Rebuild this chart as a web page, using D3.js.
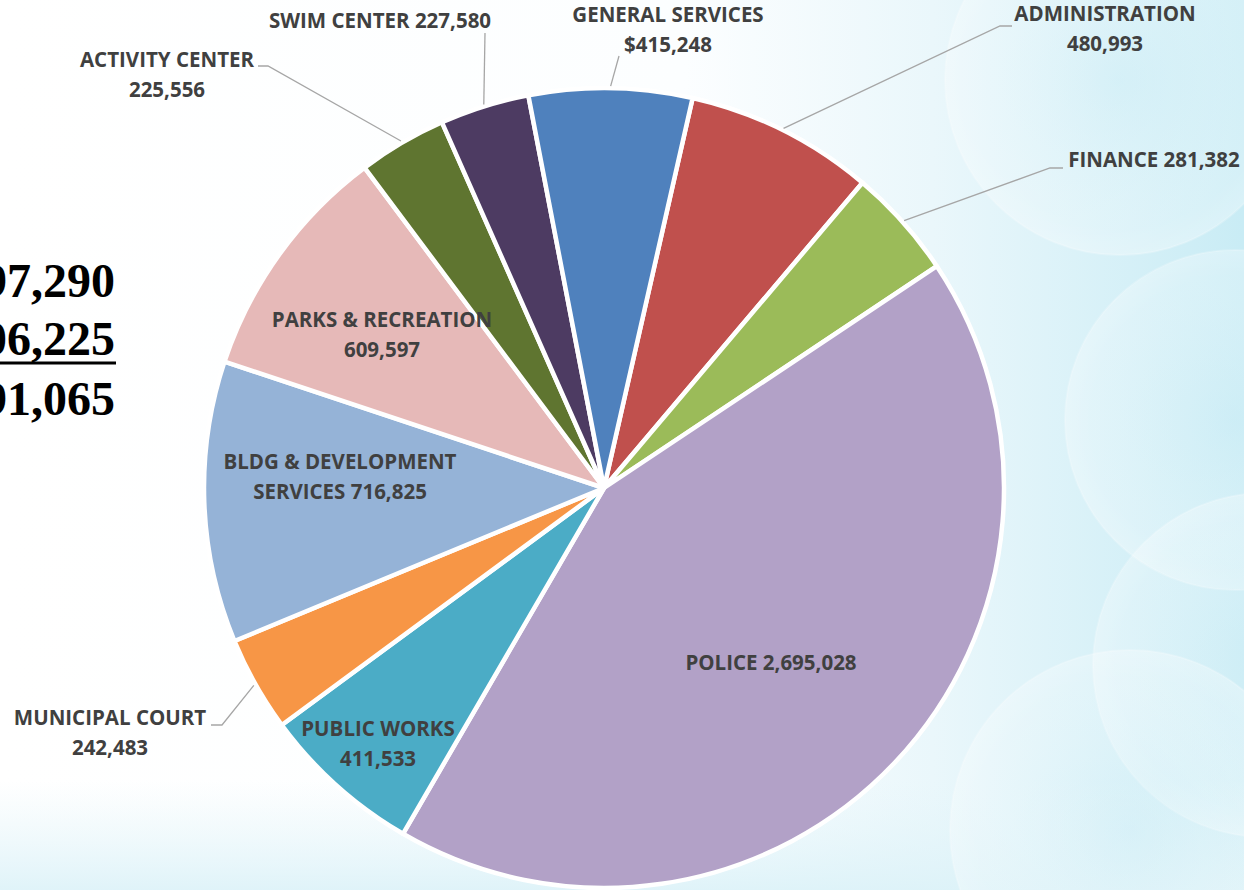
<!DOCTYPE html>
<html>
<head>
<meta charset="utf-8">
<script src="https://cdn.jsdelivr.net/npm/d3@7"></script>
<style>
  html, body { margin: 0; padding: 0; background: #fff; overflow: hidden; }
  .lbl { font-family: "Open Sans", "Noto Sans", sans-serif; font-weight: 700; fill: #404040; }
  .big { font-family: "Liberation Serif", "Times New Roman", serif; font-weight: 700; fill: #000; }
</style>
</head>
<body>
<script>

var width = 1244;
var height = 890;

// departments in clockwise order, starting just right of 12 o'clock
var departments = ["ADMINISTRATION", "FINANCE", "POLICE", "PUBLIC WORKS", "MUNICIPAL COURT",
  "BLDG & DEVELOPMENT SERVICES", "PARKS & RECREATION", "ACTIVITY CENTER", "SWIM CENTER", "GENERAL SERVICES"];
var budget = [480993, 281382, 2695028, 411533, 242483, 716825, 609597, 225556, 227580, 415248];
var sliceColors = ["#C0504D", "#9BBB59", "#B2A1C7", "#4BACC6", "#F79646",
  "#95B3D7", "#E6B9B8", "#5F7530", "#4D3B62", "#4F81BD"];

// the figures at the left edge (partly cut off in the slide)
var totals = ["6,397,290", "6,306,225", "$91,065"];

// label layout: text lines ("#" = value), text centre / baseline, optional leader points
var labelLayout = {
  "ADMINISTRATION": {lines: ["ADMINISTRATION", "#"], x: 1105, y: 21, leader: [[1012, 26], [1000, 26]]},
  "FINANCE": {lines: ["FINANCE #"], x: 1154, y: 167, leader: [[1063, 168], [1050, 168]]},
  "POLICE": {lines: ["POLICE #"], x: 771, y: 670},
  "PUBLIC WORKS": {lines: ["PUBLIC WORKS", "#"], x: 378, y: 736},
  "MUNICIPAL COURT": {lines: ["MUNICIPAL COURT", "#"], x: 110, y: 725, leader: [[211, 725], [222, 725]]},
  "BLDG & DEVELOPMENT SERVICES": {lines: ["BLDG & DEVELOPMENT", "SERVICES #"], x: 340, y: 469},
  "PARKS & RECREATION": {lines: ["PARKS & RECREATION", "#"], x: 382, y: 327},
  "ACTIVITY CENTER": {lines: ["ACTIVITY CENTER", "#"], x: 167, y: 67, leader: [[258, 66], [268, 66]]},
  "SWIM CENTER": {lines: ["SWIM CENTER #"], x: 380, y: 28, leader: [[485, 33]]},
  "GENERAL SERVICES": {lines: ["GENERAL SERVICES", "$#"], x: 668, y: 22, leader: [[619, 56]]}
};

var cx = 604, cy = 488, radius = 400;
var firstAngle = 12.8 * Math.PI / 180;

var svg = d3.select("body")
  .append("svg")
  .attr("width", width)
  .attr("height", height);

// background: white fading into pale cyan bubbles on the right
var defs = svg.append("defs");
var bg = defs.append("linearGradient").attr("id", "bg").attr("x1", 0).attr("x2", 1).attr("y1", 0).attr("y2", 0);
bg.append("stop").attr("offset", "0%").attr("stop-color", "#ffffff");
bg.append("stop").attr("offset", "55%").attr("stop-color", "#fcfeff");
bg.append("stop").attr("offset", "75%").attr("stop-color", "#eaf7fb");
bg.append("stop").attr("offset", "100%").attr("stop-color", "#c9ecf5");

var bottomFade = defs.append("linearGradient").attr("id", "bottomFade").attr("x1", 0).attr("x2", 0).attr("y1", 0).attr("y2", 1);
bottomFade.append("stop").attr("offset", "0%").attr("stop-color", "#e4f5fa").attr("stop-opacity", 0);
bottomFade.append("stop").attr("offset", "100%").attr("stop-color", "#dcf2f8").attr("stop-opacity", 0.9);

var bubble = defs.append("radialGradient").attr("id", "bubble");
bubble.append("stop").attr("offset", "0%").attr("stop-color", "#d3eff7").attr("stop-opacity", 0.35);
bubble.append("stop").attr("offset", "85%").attr("stop-color", "#ffffff").attr("stop-opacity", 0.22);
bubble.append("stop").attr("offset", "100%").attr("stop-color", "#ffffff").attr("stop-opacity", 0.32);

svg.append("rect").attr("width", width).attr("height", height).attr("fill", "url(#bg)");
svg.append("rect").attr("y", 780).attr("width", width).attr("height", 110).attr("fill", "url(#bottomFade)");

var bubbles = [[1120, 80, 175], [1235, 420, 170], [1265, 665, 172], [1130, 830, 180]];
svg.append("g").selectAll("circle")
  .data(bubbles)
  .enter().append("circle")
  .attr("cx", function(d) { return d[0]; })
  .attr("cy", function(d) { return d[1]; })
  .attr("r", function(d) { return d[2]; })
  .attr("fill", "url(#bubble)")
  .attr("stroke", "#ffffff")
  .attr("stroke-opacity", 0.2)
  .attr("stroke-width", 2);

// left figures
var big = svg.append("g");
big.selectAll("text")
  .data(totals)
  .enter().append("text")
  .attr("class", "big")
  .attr("x", 115)
  .attr("y", function(d, i) { return [297, 355, 415][i]; })
  .attr("text-anchor", "end")
  .attr("font-size", "48px")
  .text(function(d) { return d; });
big.append("line")
  .attr("x1", 0).attr("x2", 116)
  .attr("y1", 363).attr("y2", 363)
  .attr("stroke", "#000").attr("stroke-width", 3);

// pie
var data = departments.map(function(d, i) { return {name: d, value: budget[i], color: sliceColors[i]}; });

var pie = d3.pie()
  .sort(null)
  .value(function(d) { return d.value; })
  .startAngle(firstAngle)
  .endAngle(firstAngle + 2 * Math.PI);

var arc = d3.arc().innerRadius(0).outerRadius(radius);
var arcs = pie(data);

var chart = svg.append("g").attr("transform", "translate(" + cx + "," + cy + ")");

chart.selectAll("path.slice")
  .data(arcs)
  .enter().append("path")
  .attr("class", "slice")
  .attr("d", arc)
  .attr("fill", function(d) { return d.data.color; })
  .attr("stroke", "#ffffff")
  .attr("stroke-width", 4.5)
  .attr("stroke-linejoin", "round");

var fmt = d3.format(",");

// leader lines run from the label to the rim at the slice's mid angle
var leaders = svg.append("g");
arcs.forEach(function(d) {
  var lay = labelLayout[d.data.name];
  if (!lay.leader) return;
  var mid = (d.startAngle + d.endAngle) / 2;
  var rim = [cx + (radius + 2) * Math.sin(mid), cy - (radius + 2) * Math.cos(mid)];
  var pts = lay.leader.concat([rim]);
  leaders.append("path")
    .attr("d", d3.line()(pts))
    .attr("fill", "none")
    .attr("stroke", "#A6A6A6")
    .attr("stroke-width", 1.3);
});

var labels = svg.append("g");
arcs.forEach(function(d) {
  var lay = labelLayout[d.data.name];
  var t = labels.append("text")
    .attr("class", "lbl")
    .attr("font-size", "20.5px")
    .attr("text-anchor", "middle");
  lay.lines.forEach(function(line, i) {
    t.append("tspan")
      .attr("x", lay.x)
      .attr("y", lay.y + i * 29.5)
      .text(line.replace("#", fmt(d.data.value)));
  });
});

</script>
</body>
</html>
